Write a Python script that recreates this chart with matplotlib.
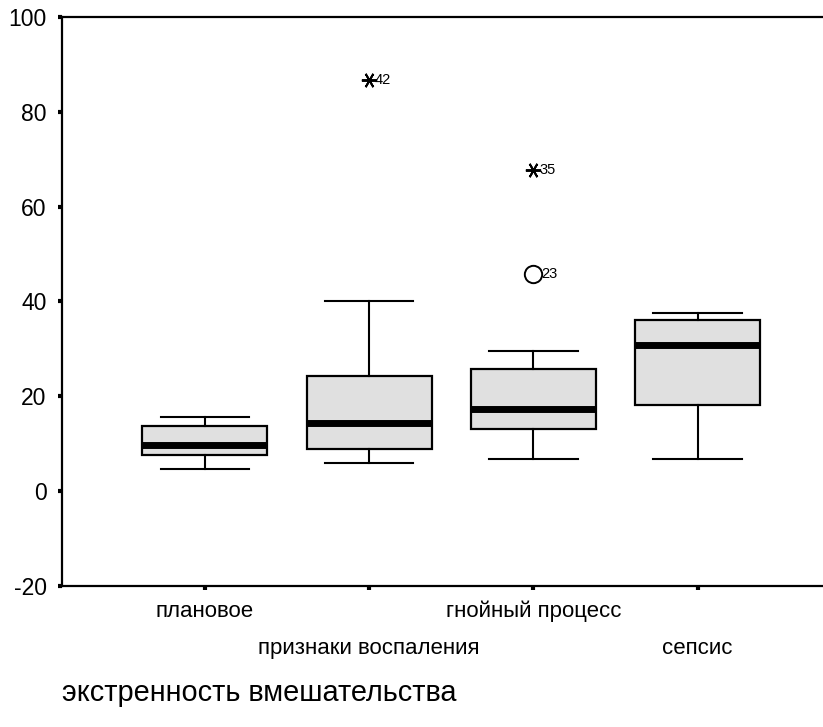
import matplotlib.pyplot as plt

plt.rcParams['font.family'] = ['Liberation Sans', 'DejaVu Sans']
plt.rcParams['axes.unicode_minus'] = False

# groups and their box summaries
groups = ['плановое', 'признаки воспаления', 'гнойный процесс', 'сепсис']
whislo = [4.6, 6.0, 6.8, 6.8]
q1 = [7.6, 8.8, 13.1, 18.1]
med = [9.8, 14.4, 17.4, 30.9]
q3 = [13.7, 24.2, 25.8, 36.0]
whishi = [15.7, 40.0, 29.6, 37.6]

# outliers: (group index, value, case number)
outliers = [(2, 45.9, '23')]
extremes = [(1, 86.7, '42'), (2, 67.7, '35')]

fig = plt.figure(figsize=(8.23, 7.27), dpi=100)
ax = fig.add_axes([0.0753, 0.194, 0.93, 0.7826])

stats = []
for i in range(len(groups)):
    stats.append({'whislo': whislo[i], 'q1': q1[i], 'med': med[i],
                  'q3': q3[i], 'whishi': whishi[i], 'fliers': []})

pos = [1, 2, 3, 4]
ax.bxp(stats, positions=pos, widths=0.76, patch_artist=True, showfliers=False,
       boxprops=dict(facecolor='#e0e0e0', edgecolor='black', linewidth=1.6),
       medianprops=dict(color='black', linewidth=5, solid_capstyle='butt'),
       whiskerprops=dict(color='black', linewidth=1.5),
       capprops=dict(color='black', linewidth=1.5),
       capwidths=0.54)

for gi, v, lab in outliers:
    ax.plot(pos[gi], v, marker='o', ms=12.5, mfc='white', mec='black', mew=1.4)
    ax.text(pos[gi] + 0.045, v, lab, fontsize=10.5, va='center', ha='left')
for gi, v, lab in extremes:
    ax.plot(pos[gi], v, marker=(6, 2, 90), ms=11, color='black', mew=1.4)
    ax.text(pos[gi] + 0.035, v, lab, fontsize=10.5, va='center', ha='left')

ax.set_xlim(0.13, 4.79)
ax.set_ylim(-20, 100)
ax.set_yticks([-20, 0, 20, 40, 60, 80, 100])
ax.set_xticks(pos)
ax.set_xticklabels(['', '', '', ''])
for i, g in enumerate(groups):
    yoff = -0.045 if i % 2 == 0 else -0.11
    ax.text(pos[i], yoff, g, transform=ax.get_xaxis_transform(),
            ha='center', va='center', fontsize=16)

ax.tick_params(axis='both', direction='out', length=3, width=3, labelsize=16.5)
ax.tick_params(axis='y', pad=8)
for s in ['left', 'top', 'bottom']:
    ax.spines[s].set_linewidth(1.6)
ax.spines['right'].set_visible(False)

fig.text(62 / 823, 1 - 693 / 727, 'экстренность вмешательства',
         fontsize=20.8, ha='left', va='center')

fig.savefig('out.png', dpi=100)
